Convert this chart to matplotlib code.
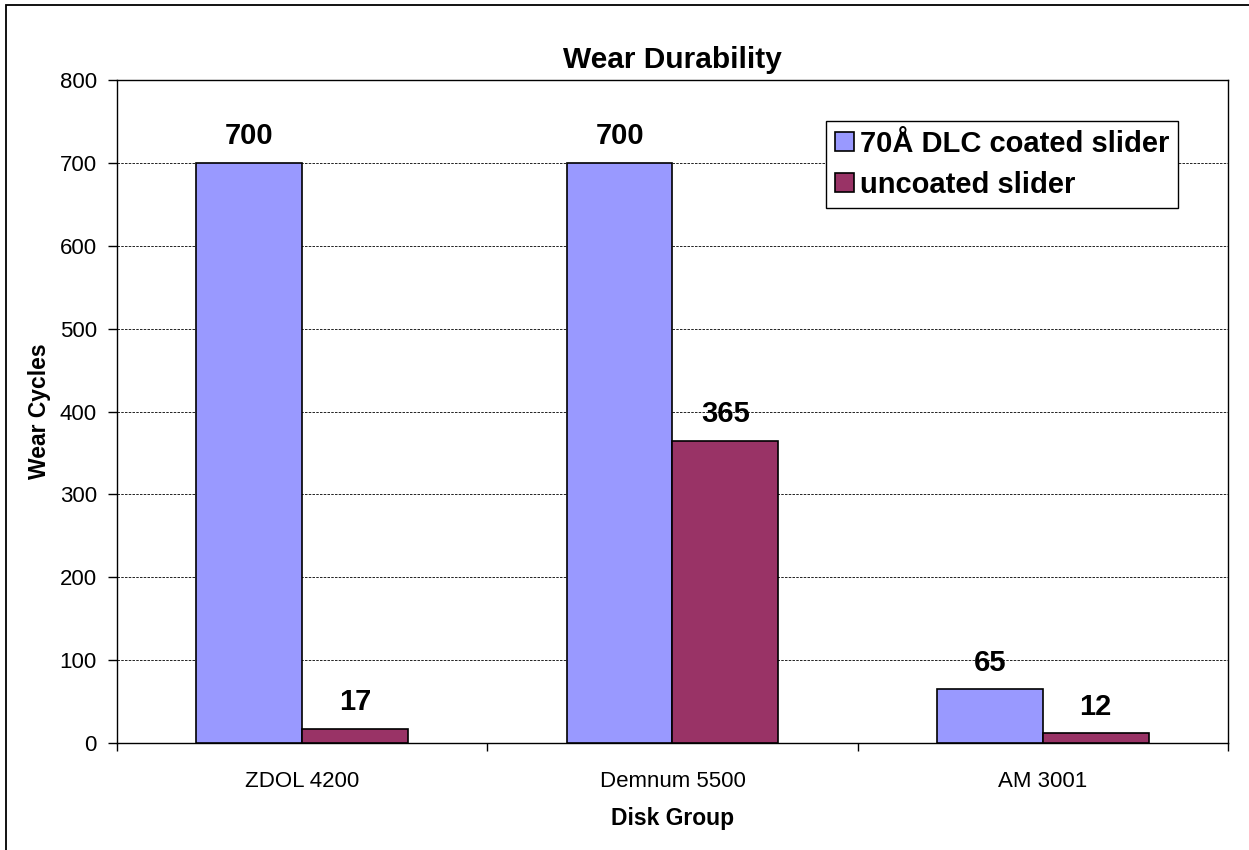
import matplotlib
matplotlib.use("Agg")
import matplotlib.pyplot as plt
from matplotlib.patches import Rectangle
import numpy as np

plt.rcParams['font.family'] = ['Liberation Sans', 'DejaVu Sans']

categories = ["ZDOL 4200", "Demnum 5500", "AM 3001"]
coated = [700, 700, 65]
uncoated = [17, 365, 12]
series_names = ["70Å DLC coated slider", "uncoated slider"]
yticks = [0, 100, 200, 300, 400, 500, 600, 700, 800]

W, H = 1249, 850
fig = plt.figure(figsize=(W / 100, H / 100), dpi=100)

# chart-area frame (left and top edges only reach inside the canvas)
fig.patches.append(Rectangle((6 / W, -0.05), 1.1, (H - 5) / H + 0.05,
                             transform=fig.transFigure, fill=False,
                             edgecolor='black', linewidth=1.3))

ax = fig.add_axes([117 / W, (H - 743) / H, (1228 - 117) / W, (743 - 80) / H])

x = np.arange(len(categories))
w = 1 / 3.5
b1 = ax.bar(x - w / 2, coated, w, color='#9999FF', edgecolor='black',
            linewidth=1.2, label=series_names[0], zorder=3)
b2 = ax.bar(x + w / 2, uncoated, w, color='#993366', edgecolor='black',
            linewidth=1.2, label=series_names[1], zorder=3)

for bars, vals in ((b1, coated), (b2, uncoated)):
    for r, v in zip(bars, vals):
        ax.annotate(f"{v}", (r.get_x() + r.get_width() / 2, v),
                    xytext=(0, 9), textcoords='offset points',
                    ha='center', va='bottom', fontsize=21, fontweight='bold')

ax.set_xlim(-0.5, len(categories) - 0.5)
ax.set_ylim(0, 800)
ax.set_yticks(yticks)
ax.set_xticks(x)
ax.set_xticklabels(categories, fontsize=16)
ax.set_xticks(np.arange(len(categories) + 1) - 0.5, minor=True)
ax.tick_params(axis='x', which='major', length=0, pad=20)
ax.tick_params(axis='x', which='minor', length=6, direction='out', width=1)
ax.tick_params(axis='y', labelsize=16, length=6.5, width=1, direction='out', pad=8)
ax.yaxis.grid(True, linestyle=(0, (3, 1.5)), color='black', linewidth=0.6, zorder=0)
for s in ax.spines.values():
    s.set_linewidth(1)
    s.set_color('black')

ax.set_title("Wear Durability", fontsize=21.5, fontweight='bold', pad=9)
ax.set_xlabel("Disk Group", fontsize=16.5, fontweight='bold', labelpad=11)
ax.set_ylabel("Wear Cycles", fontsize=16.5, fontweight='bold', labelpad=6)

leg = ax.legend(loc='upper left', bbox_to_anchor=((826 - 117) / (1228 - 117), (743 - 121) / (743 - 80)),
                prop={'size': 21, 'weight': 'bold'}, frameon=True, fancybox=False,
                framealpha=1, edgecolor='black', handlelength=0.65, handleheight=0.65,
                handletextpad=0.2, borderpad=0.3, labelspacing=0.45, borderaxespad=0)
leg.get_frame().set_linewidth(1)

fig.savefig("out.png", dpi=100)
